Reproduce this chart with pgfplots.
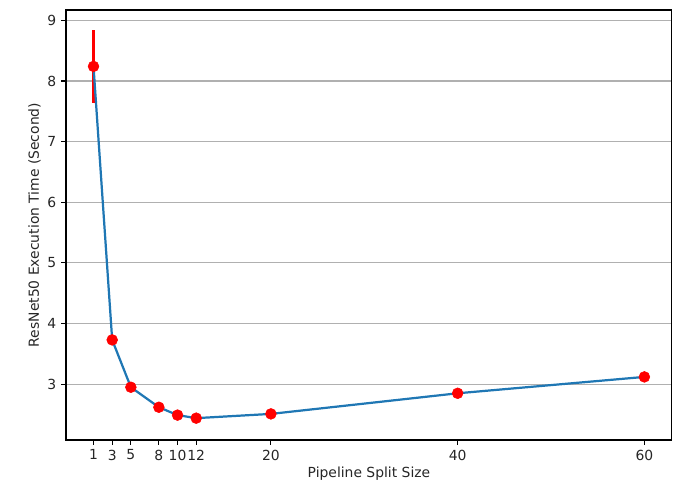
\documentclass[border=0pt]{standalone}
\usepackage{fontspec}
\setmainfont{DejaVu Sans}
\usepackage{pgfplots}
\pgfplotsset{compat=1.18}
\definecolor{mplblue}{HTML}{1F77B4}
\definecolor{mplgrid}{HTML}{B0B0B0}
\begin{document}
\begin{tikzpicture}
\begin{axis}[
  name=ax,
  scale only axis,
  width=436.3bp, height=309.6bp,
  xmin=-1.95, xmax=62.95,
  ymin=2.08, ymax=9.17,
  xtick={1,3,5,8,10,12,20,40,60},
  ytick={3,4,5,6,7,8,9},
  ymajorgrids=true,
  grid style={mplgrid, line width=0.8bp},
  tick align=outside,
  tick pos=left,
  major tick length=3.5bp,
  tick style={black, line width=0.8bp},
  axis line style={black, line width=0.8bp},
  every tick label/.append style={font=\fontsize{10bp}{12bp}\selectfont, text=black!85},
  label style={font=\fontsize{10bp}{12bp}\selectfont, text=black!85},
  /pgf/number format/assume math mode=true,
  xlabel={Pipeline Split Size},
  ylabel={ResNet50 Execution Time (Second)},
  xlabel style={yshift=2bp},
  ylabel style={yshift=-2bp},
]
\addplot[red, line width=1.5bp, only marks, mark=none,
  error bars/.cd, y dir=both, y explicit, error mark=none,
  error bar style={red, line width=1.5bp}]
  coordinates {
  (1,8.24) +- (0,0.60)
  (3,3.73) +- (0,0.06)
  (5,2.95) +- (0,0.03)
  (8,2.62) +- (0,0.02)
  (10,2.49) +- (0,0.02)
  (12,2.44) +- (0,0.01)
  (20,2.51) +- (0,0.01)
  (40,2.85) +- (0,0.01)
  (60,3.12) +- (0,0.01)
};
\addplot[mplblue, line width=1.6bp, no marks] coordinates {
  (1,8.24) (3,3.73) (5,2.95) (8,2.62) (10,2.49) (12,2.44) (20,2.51) (40,2.85) (60,3.12)
};
\addplot[only marks, mark=*, mark size=3.9bp, mark options={fill=red, draw=red}] coordinates {
  (1,8.24) (3,3.73) (5,2.95) (8,2.62) (10,2.49) (12,2.44) (20,2.51) (40,2.85) (60,3.12)
};
\end{axis}
\pgfresetboundingbox
\path ([shift={(-47.5bp,-32.4bp)}]ax.south west) rectangle ([shift={(1.5bp,7.2bp)}]ax.north east);
\end{tikzpicture}
\end{document}
